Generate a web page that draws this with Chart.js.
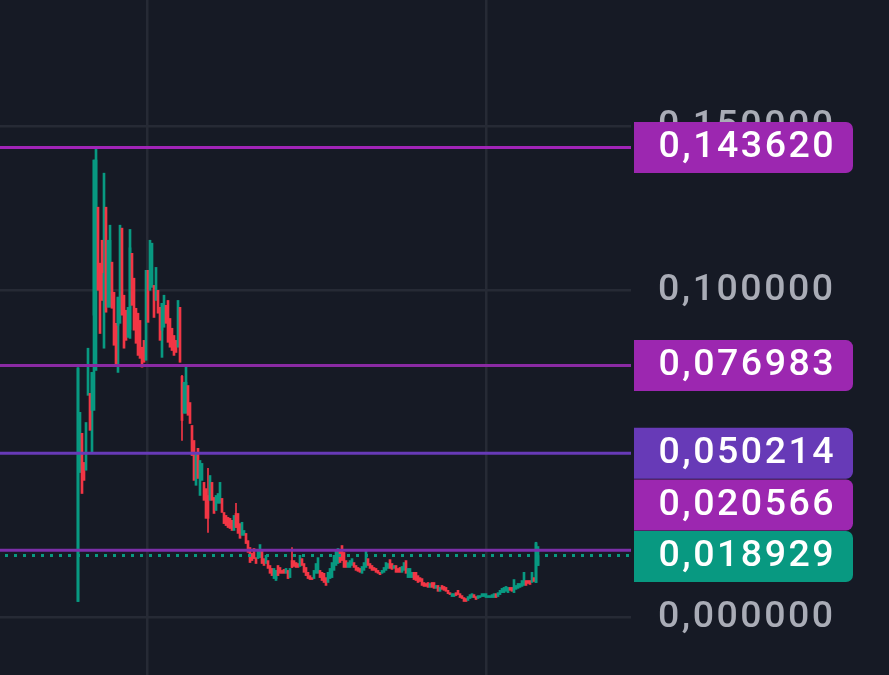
<!DOCTYPE html>
<html><head><meta charset="utf-8">
<style>html,body{margin:0;padding:0;background:#161a25}#w{width:889px;height:675px;position:relative}canvas{display:block}</style>
<script src="https://cdn.jsdelivr.net/npm/chart.js@4"></script>
</head><body><div id="w"><canvas id="c" width="889" height="675"></canvas></div>
<script>
const opens=[
.0049,.0443,.0563,.0474,.0450,.0679,.0685,.0633,.0924,.1040,
.1254,.1083,.1153,.0969,.1254,.0948,.0969,.1086,.0994,.0899,
.0893,.0899,.1190,.0985,.0939,.0856,.0880,.1113,.1037,.0945,
.0930,.0908,.0826,.0847,.0786,.1061,.1000,.1009,.1015,.0969,
.1000,.0948,.0878,.0887,.0954,.0969,.0914,.0884,.0862,.0847,
.0826,.0948,.0737,.0624,.0673,.0709,.0657,.0587,.0541,.0404,
.0517,.0373,.0419,.0413,.0394,.0373,.0358,.0413,.0367,.0327,
.0349,.0349,.0364,.0321,.0312,.0306,.0303,.0297,.0266,.0318,
.0318,.0287,.0251,.0251,.0257,.0235,.0214,.0196,.0211,.0183,
.0180,.0183,.0205,.0180,.0165,.0174,.0159,.0150,.0119,.0119,
.0159,.0153,.0144,.0147,.0135,.0144,.0122,.0174,.0174,.0168,
.0165,.0156,.0180,.0165,.0153,.0138,.0128,.0122,.0119,.0135,
.0135,.0144,.0138,.0135,.0122,.0107,.0119,.0122,.0144,.0159,
.0165,.0205,.0220,.0199,.0174,.0153,.0153,.0159,.0168,.0159,
.0153,.0150,.0135,.0144,.0153,.0180,.0165,.0159,.0153,.0150,
.0144,.0138,.0135,.0138,.0144,.0150,.0177,.0165,.0150,.0159,
.0150,.0153,.0138,.0144,.0174,.0122,.0122,.0122,.0138,.0138,
.0128,.0122,.0119,.0107,.0104,.0107,.0092,.0107,.0107,.0089,
.0098,.0080,.0098,.0095,.0092,.0083,.0076,.0064,.0064,.0076,
.0083,.0073,.0067,.0061,.0058,.0052,.0058,.0061,.0070,.0064,
.0058,.0061,.0064,.0064,.0061,.0061,.0061,.0061,.0061,.0073,
.0064,.0070,.0076,.0076,.0080,.0076,.0092,.0092,.0076,.0086,
.0089,.0092,.0095,.0098,.0113,.0113,.0113,.0107,.0122,.0107,.0159];
const closes=[
.0761,.0627,.0379,.0419,.0596,.0823,.0572,.0749,.1398,.1398,
.1000,.0868,.0969,.1052,.0933,.1153,.1153,.0945,.0832,.0771,
.0979,.1199,.0924,.0823,.0847,.0948,.1130,.0954,.0878,.0838,
.0801,.0792,.0765,.0780,.1061,.0902,.1153,.1144,.0917,.1070,
.0930,.0847,.0960,.0985,.0899,.0841,.0826,.0816,.0801,.0810,
.0969,.0780,.0602,.0719,.0719,.0618,.0593,.0495,.0419,.0502,
.0425,.0480,.0471,.0358,.0303,.0303,.0434,.0358,.0318,.0373,
.0379,.0413,.0321,.0287,.0281,.0275,.0272,.0266,.0312,.0275,
.0257,.0242,.0291,.0266,.0226,.0199,.0168,.0174,.0180,.0165,
.0205,.0223,.0165,.0159,.0190,.0150,.0135,.0128,.0150,.0144,
.0128,.0135,.0135,.0135,.0150,.0119,.0150,.0153,.0156,.0153,
.0153,.0190,.0159,.0138,.0128,.0119,.0116,.0116,.0144,.0165,
.0183,.0122,.0113,.0107,.0098,.0138,.0150,.0168,.0190,.0205,
.0211,.0168,.0174,.0153,.0153,.0168,.0174,.0180,.0153,.0144,
.0141,.0138,.0156,.0168,.0205,.0159,.0150,.0144,.0144,.0138,
.0135,.0131,.0144,.0153,.0168,.0165,.0150,.0147,.0159,.0138,
.0138,.0138,.0156,.0168,.0135,.0150,.0150,.0138,.0116,.0113,
.0107,.0110,.0098,.0095,.0095,.0092,.0104,.0092,.0089,.0098,
.0080,.0092,.0086,.0083,.0080,.0073,.0070,.0073,.0073,.0067,
.0070,.0061,.0058,.0049,.0049,.0064,.0070,.0073,.0061,.0055,
.0067,.0067,.0073,.0073,.0073,.0067,.0067,.0070,.0073,.0061,
.0076,.0083,.0089,.0092,.0095,.0092,.0083,.0080,.0116,.0098,
.0104,.0104,.0113,.0138,.0098,.0104,.0101,.0138,.0110,.0226,.018929];
const wickHighs={0:.0764,9:.1436,13:.1358,16:.1199,26:.1186,52:.0740,54:.0771,65:.0456,79:.0349,107:.0214,229:.0230,230:.0217};
const wickLows={7:.0505,8:.0633,9:.0755,13:.0823,16:.0948,20:.0749,26:.0853,42:.0795,52:.0541,54:.0624,65:.0260,99:.0113};
const thinWicks=[52,65,79,107];
const levels=[0.143620,0.076983,0.050214,0.020566];
const levelColors=['#a124b7','#8a2aa3','#673ab7','#7b2fa8'];
const tagColors=['#9c27b0','#9c27b0','#673ab7','#9c27b0'];
const lastPrice=0.018929;
const axisTicks=[0,0.1,0.15];
const timeGridAt=[34.5,204];
const xRange=[-39,276.5];
const yRange=[-0.01757,0.18872];

const UP='#089981',DOWN='#f23645',GRID='#262a35';
const FONT='Roboto',SPACING='2.5px';
const fmt=v=>v.toFixed(6).replace('.',',');
const bodies=opens.map((o,i)=>({x:i,y:[o,closes[i]]}));
const bodyColors=opens.map((o,i)=>closes[i]>=o?UP:DOWN);
const wicks=[],wickColors=[],thin=[],thinColors=[];
opens.forEach((o,i)=>{
  if(wickHighs[i]===undefined&&wickLows[i]===undefined)return;
  const c=closes[i];
  const bar={x:i,y:[wickLows[i]??Math.min(o,c),wickHighs[i]??Math.max(o,c)]};
  if(thinWicks.includes(i)){thin.push(bar);thinColors.push(c>=o?UP:DOWN);}
  else{wicks.push(bar);wickColors.push(c>=o?UP:DOWN);}
});
const lineDs=(v,color,extra)=>Object.assign({type:'line',data:[{x:xRange[0],y:v},{x:xRange[1],y:v}],
  borderColor:color,borderWidth:3,pointRadius:0,order:0,tension:0},extra||{});

const tagsPlugin={id:'tags',
  beforeDraw(ch){const c=ch.ctx;c.fillStyle='#161a25';c.fillRect(0,0,ch.width,ch.height);c.letterSpacing=SPACING;},
  afterDraw(ch){
    const y=ch.scales.y,c=ch.ctx,h=51,pitch=51.5,x0=634,x1=853,r=7;
    const items=levels.map((v,i)=>({v,col:tagColors[i]}));
    items.push({v:lastPrice,col:UP});
    items.sort((a,b)=>a.v-b.v);
    let below=null;
    items.forEach(t=>{
      let cy=y.getPixelForValue(t.v);
      if(t.v===lastPrice)cy+=1;
      if(below!==null)cy=Math.min(cy,below-pitch);
      t.cy=cy;below=cy;
    });
    c.save();
    c.letterSpacing=SPACING;
    items.forEach(t=>{
      c.fillStyle=t.col;
      c.beginPath();
      c.roundRect(x0,t.cy-h/2,x1-x0,h,[0,r,r,0]);
      c.fill();
      c.fillStyle='#ffffff';
      c.font='500 37.5px '+FONT;
      c.textBaseline='middle';c.textAlign='left';
      c.fillText(fmt(t.v),658.5,t.cy+0.5);
    });
    c.restore();
  }
};

new Chart(document.getElementById('c'),{
  type:'bar',
  data:{datasets:[
    lineDs(levels[0],levelColors[0]),
    lineDs(levels[1],levelColors[1]),
    lineDs(levels[2],levelColors[2]),
    lineDs(levels[3],levelColors[3]),
    lineDs(lastPrice,UP,{borderDash:[3,6],borderDashOffset:4,borderWidth:3}),
    {label:'body',data:bodies,backgroundColor:bodyColors,barThickness:2,grouped:false,borderWidth:0,order:2},
    {label:'wick',data:wicks,backgroundColor:wickColors,barThickness:2,grouped:false,borderWidth:0,order:3},
    {label:'thinWick',data:thin,backgroundColor:thinColors,barThickness:1,grouped:false,borderWidth:0,order:4}
  ]},
  plugins:[tagsPlugin],
  options:{
    responsive:false,animation:false,devicePixelRatio:1,
    layout:{padding:0},
    plugins:{legend:{display:false},tooltip:{enabled:false},title:{display:false}},
    scales:{
      x:{type:'linear',offset:false,min:xRange[0],max:xRange[1],position:'bottom',
        afterBuildTicks:s=>{s.ticks=timeGridAt.map(v=>({value:v}));},
        afterFit:s=>{s.height=0;s.paddingLeft=0;s.paddingRight=0;},
        ticks:{display:false},border:{display:false},
        grid:{color:GRID,lineWidth:2.5,drawTicks:false,offset:false}},
      y:{type:'linear',position:'right',min:yRange[0],max:yRange[1],
        afterBuildTicks:s=>{s.ticks=axisTicks.map(v=>({value:v}));},
        afterFit:s=>{s.width=258;s.paddingTop=0;s.paddingBottom=0;},
        border:{display:false},
        grid:{color:GRID,lineWidth:2.5,drawTicks:false},
        ticks:{color:'#a9acb6',font:{family:FONT,size:37.5,weight:'500'},padding:27,
          callback:v=>fmt(v)}}
    }
  }
});
</script>
</body></html>
